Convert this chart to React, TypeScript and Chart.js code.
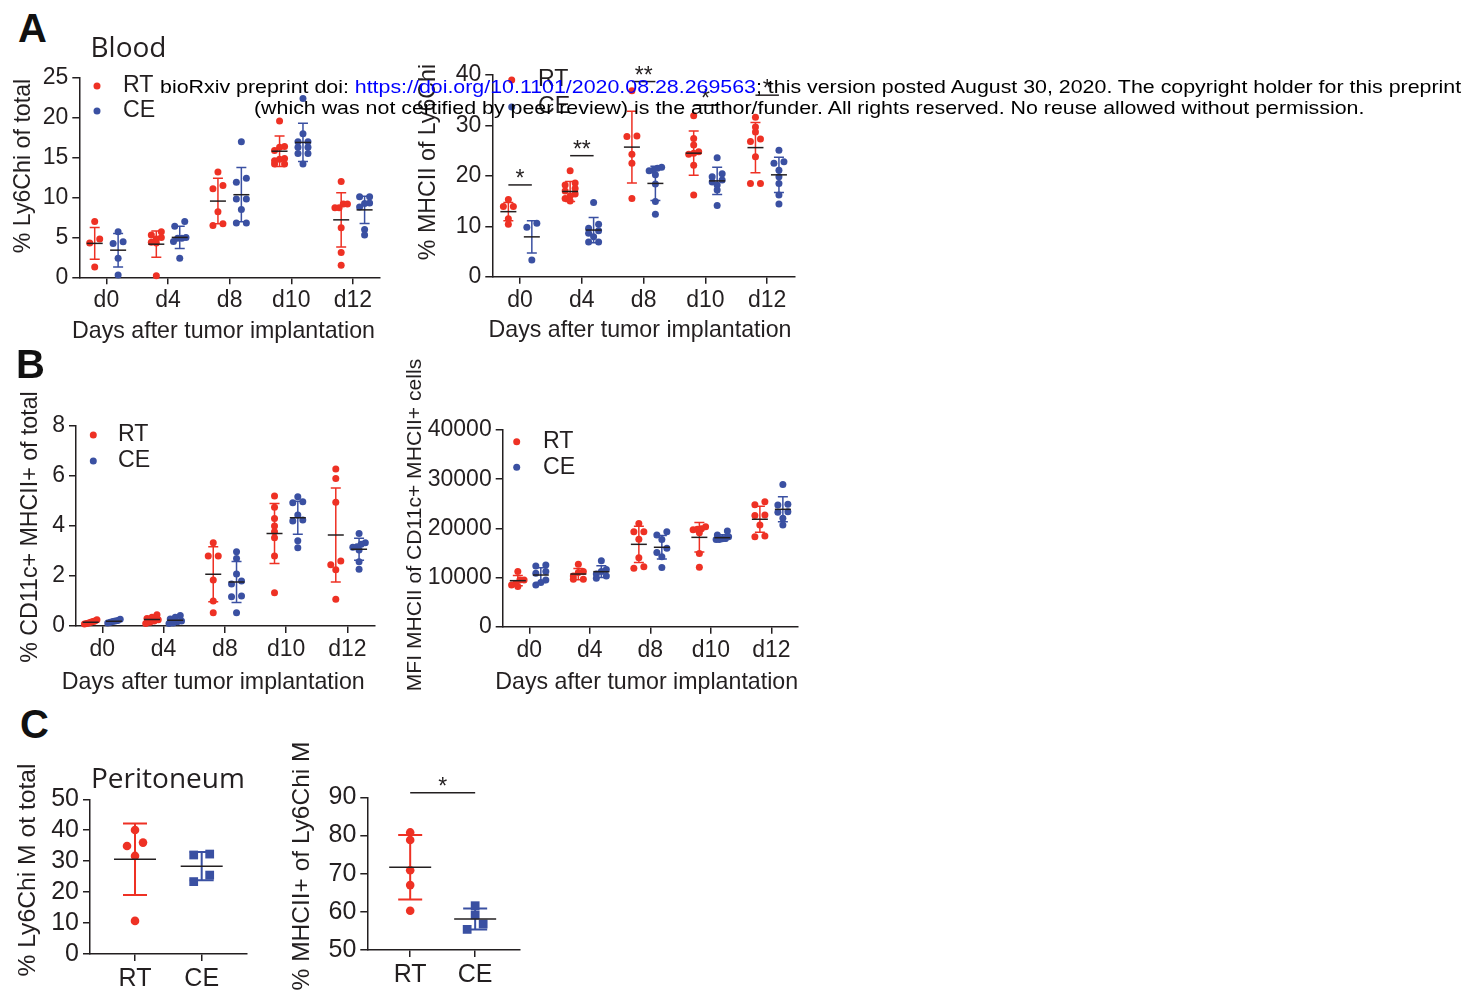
import React, { useEffect, useRef } from 'react';
import { Chart, registerables } from 'chart.js';
Chart.register(...registerables);

const FONT = "'Liberation Sans', Arial, Helvetica, sans-serif";
const TITLE_FONT = "'Open Sans', 'Noto Sans', sans-serif";
const RED = '#EE3124';
const BLUE = '#3A50A2';
const INK = '#231F20';

// ---------------- data ----------------
const DAYS = ['d0', 'd4', 'd8', 'd10', 'd12'];
const GROUPS = ['RT', 'CE'];

// A (left): % Ly6Chi of total
const A1_Y_TICKS = [0, 5, 10, 15, 20, 25];
const A1_RT = [
  [7.0, 4.8, 4.3, 1.3],
  [5.7, 5.3, 5.0, 4.8, 4.4, 4.3, 0.2],
  [13.2, 11.5, 11.1, 8.2, 6.7, 6.5],
  [19.6, 16.4, 16.3, 15.9, 14.9, 14.8, 14.6, 14.2, 14.2],
  [12.0, 9.2, 9.2, 8.7, 8.7, 6.2, 3.1, 1.5],
];
const A1_RT_MEAN = [4.25, 4.15, 9.55, 15.8, 7.2];
const A1_RT_SD = [2.0, 1.65, 2.85, 1.9, 3.4];
const A1_CE = [
  [5.7, 4.45, 4.25, 2.4, 0.3],
  [7.0, 6.4, 5.0, 4.9, 4.9, 4.5, 2.4],
  [17.0, 12.4, 11.9, 9.8, 9.8, 8.5, 6.8, 6.8],
  [22.4, 18.0, 17.0, 17.0, 16.3, 16.3, 15.5, 15.5, 14.2],
  [10.1, 10.1, 9.3, 9.25, 8.8, 6.0, 5.3],
];
const A1_CE_MEAN = [3.4, 5.0, 10.35, 16.9, 8.45];
const A1_CE_SD = [2.1, 1.4, 3.4, 2.4, 1.7];

// A (right): % MHCII of Ly6Chi
const A2_Y_TICKS = [0, 10, 20, 30, 40];
const A2_RT = [
  [15.3, 13.9, 13.9, 11.5, 10.4],
  [21.0, 18.6, 18.2, 17.5, 17.0, 16.4, 16.0, 15.5, 15.0],
  [36.9, 27.9, 27.8, 24.3, 22.5, 15.5],
  [31.9, 27.4, 26.1, 24.8, 24.5, 24.3, 22.1, 16.2],
  [31.6, 29.7, 28.7, 27.3, 26.8, 23.8, 18.5, 18.5],
];
const A2_RT_MEAN = [12.9, 16.9, 25.7, 24.5, 25.6];
const A2_RT_SD = [1.8, 2.0, 7.1, 4.4, 5.0];
const A2_CE = [
  [10.6, 9.8, 3.3],
  [14.7, 10.4, 9.6, 9.1, 8.6, 7.9, 6.9, 6.9],
  [21.7, 21.5, 21.1, 21.0, 20.2, 18.4, 14.9, 12.4],
  [23.6, 20.4, 19.8, 19.2, 18.8, 18.2, 17.2, 14.1],
  [25.1, 22.8, 22.5, 21.1, 19.8, 18.5, 16.2, 14.4],
];
const A2_CE_MEAN = [7.9, 9.25, 18.5, 19.0, 20.2];
const A2_CE_SD = [3.2, 2.5, 3.4, 2.7, 3.5];
const A2_SIG_DAY = [0, 1, 2, 3, 4];
const A2_SIG_Y = [18.2, 24.0, 38.7, 34.0, 36.0];
const A2_SIG_TEXT = ['*', '**', '**', '*', '*'];

// B (left): % CD11c+ MHCII+ of total
const B1_Y_TICKS = [0, 2, 4, 6, 8];
const B1_RT = [
  [0.25, 0.2, 0.18, 0.15, 0.12, 0.1, 0.08],
  [0.45, 0.35, 0.3, 0.25, 0.2, 0.15, 0.1],
  [3.33, 2.8, 2.8, 1.84, 1.0, 0.53],
  [5.2, 4.75, 4.3, 4.0, 3.77, 3.53, 2.8, 1.33],
  [6.28, 5.9, 4.95, 2.6, 2.45, 2.25, 1.07],
];
const B1_RT_MEAN = [0.15, 0.26, 2.07, 3.7, 3.64];
const B1_RT_SD = [0.06, 0.12, 1.1, 1.2, 1.88];
const B1_CE = [
  [0.27, 0.22, 0.2, 0.18, 0.15, 0.12],
  [0.42, 0.35, 0.28, 0.2, 0.17, 0.12, 0.1],
  [2.97, 2.7, 2.08, 1.8, 1.68, 1.2, 1.17, 0.53],
  [5.17, 4.97, 4.93, 4.44, 4.24, 4.2, 3.41, 3.13],
  [3.7, 3.33, 3.27, 3.17, 3.15, 3.04, 2.57, 2.27],
];
const B1_CE_MEAN = [0.19, 0.23, 1.76, 4.33, 3.07];
const B1_CE_SD = [0.05, 0.12, 0.82, 0.66, 0.44];

// B (right): MFI MHCII of CD11c+ MHCII+ cells
const B2_Y_TICKS = [0, 10000, 20000, 30000, 40000];
const B2_RT = [
  [11200, 9500, 9500, 8800, 8500, 8150],
  [12700, 11200, 11000, 10300, 9650, 9650],
  [21000, 19300, 19300, 17800, 14000, 12200, 11900],
  [20300, 19900, 19800, 19700, 19100, 14900, 12100],
  [25400, 24800, 22700, 22600, 20700, 18450, 18300],
];
const B2_RT_MEAN = [9360, 10710, 16750, 18170, 21850];
const B2_RT_SD = [1050, 1150, 3700, 3000, 2650];
const B2_CE = [
  [12550, 12350, 11200, 10850, 9500, 9000, 8500],
  [13400, 11650, 11200, 10700, 10300, 9850],
  [19300, 18650, 17750, 15950, 15100, 14250, 12050],
  [19450, 18650, 18300, 17950, 17900, 17750, 17750],
  [28900, 24900, 24750, 23400, 23250, 22050, 20700],
];
const B2_CE_MEAN = [10510, 11190, 16150, 18100, 23870];
const B2_CE_SD = [1500, 1200, 2400, 600, 2550];

// C (left): % Ly6Chi M ot total (Peritoneum)
const C1_Y_TICKS = [0, 10, 20, 30, 40, 50];
const C1_RT = [[40.1, 36.0, 34.9, 31.7, 10.7]];
const C1_RT_MEAN = [30.6];
const C1_RT_SD = [11.55];
const C1_CE = [[32.3, 32.0, 25.5, 23.4]];
const C1_CE_MEAN = [28.4];
const C1_CE_SD = [4.6];

// C (right): % MHCII+ of Ly6Chi M
const C2_Y_TICKS = [50, 60, 70, 80, 90];
const C2_RT = [[80.8, 78.8, 70.9, 67.0, 60.3]];
const C2_RT_MEAN = [71.7];
const C2_RT_SD = [8.45];
const C2_CE = [[61.6, 59.2, 56.8, 55.4]];
const C2_CE_MEAN = [58.1];
const C2_CE_SD = [2.75];
const C2_SIG_Y = [91.2];
const C2_SIG_TEXT = ['*'];

// ---------------- layout helpers ----------------
type Series = {
  name: string; color: string; style: string; radius: number;
  pos: number[]; values: number[][]; mean: number[]; sd: number[];
};
type Spec = {
  canvas: number[]; area: number[];
  labels: string[]; xRange: number[]; yTicks: number[];
  series: Series[];
  tickSize: number;
  yTitle: string; yTitleAt: number[]; yTitleSize: number;
  xTitle?: string; xTitleAt?: number[];
  legend?: { dotX: number; y0: number; gap: number; textX: number };
  sig?: { from: number[]; to: number[]; y: number[]; text: string[] };
  meanHalf: number; capHalf: number; barWidth: number;
  rowGap: number; spread: number;
};

const SHIFT = 0.19;
const dayPos = (d: number) => DAYS.map((_, i) => i + d);

// Prism-like scatter layout: points within one row height are spread symmetrically
function swarm(vals: number[], pxPerUnit: number, rowGap: number, spread: number): number[] {
  const order = vals.map((_, i) => i).sort((a, b) => vals[b] - vals[a]);
  const rows: number[][] = [];
  let top = Infinity;
  order.forEach((i) => {
    const p = vals[i] * pxPerUnit;
    if (rows.length && top - p < rowGap) rows[rows.length - 1].push(i);
    else { rows.push([i]); top = p; }
  });
  const out = vals.map(() => 0);
  rows.forEach((r) => {
    const n = r.length;
    if (n < 2) return;
    const w = n <= 3 ? spread : spread * 1.25;
    const sorted = [...r].sort((a, b) => vals[a] - vals[b]);
    sorted.forEach((i, k) => { out[i] = -w / 2 + (k * w) / (n - 1); });
  });
  return out;
}

function abSeries(rt: number[][], rm: number[], rs: number[], ce: number[][], cm: number[], cs: number[]): Series[] {
  return [
    { name: GROUPS[0], color: RED, style: 'circle', radius: 3.5, pos: dayPos(-SHIFT), values: rt, mean: rm, sd: rs },
    { name: GROUPS[1], color: BLUE, style: 'circle', radius: 3.5, pos: dayPos(SHIFT), values: ce, mean: cm, sd: cs },
  ];
}
function cSeries(rt: number[][], rm: number[], rs: number[], ce: number[][], cm: number[], cs: number[]): Series[] {
  return [
    { name: GROUPS[0], color: RED, style: 'circle', radius: 4.3, pos: [0], values: rt, mean: rm, sd: rs },
    { name: GROUPS[1], color: BLUE, style: 'rect', radius: 6.2, pos: [1], values: ce, mean: cm, sd: cs },
  ];
}

const AB_COMMON = { tickSize: 23, meanHalf: 8, capHalf: 5, barWidth: 1.5, rowGap: 5, spread: 10, labels: DAYS };
const C_COMMON = { tickSize: 25, meanHalf: 21, capHalf: 12, barWidth: 2, rowGap: 7, spread: 16, labels: GROUPS };
const LABEL_SIZE = 23.2;

const SPECS: Spec[] = [
  {
    ...AB_COMMON,
    canvas: [0, 60, 400, 290], area: [79.3, 77.3, 380, 277.3],
    xRange: [-0.44, 4.44], yTicks: A1_Y_TICKS,
    series: abSeries(A1_RT, A1_RT_MEAN, A1_RT_SD, A1_CE, A1_CE_MEAN, A1_CE_SD),
    yTitle: '% Ly6Chi of total', yTitleAt: [23.5, 166], yTitleSize: 23.2,
    xTitle: 'Days after tumor implantation', xTitleAt: [223.5, 332],
    legend: { dotX: 97, y0: 86, gap: 25, textX: 123 },
  },
  {
    ...AB_COMMON,
    canvas: [405, 55, 410, 295], area: [492.3, 75, 795, 276.7],
    xRange: [-0.45, 4.45], yTicks: A2_Y_TICKS,
    series: abSeries(A2_RT, A2_RT_MEAN, A2_RT_SD, A2_CE, A2_CE_MEAN, A2_CE_SD),
    yTitle: '% MHCII of Ly6Chi', yTitleAt: [428.5, 162], yTitleSize: 23.2,
    xTitle: 'Days after tumor implantation', xTitleAt: [640, 331],
    legend: { dotX: 511.7, y0: 80, gap: 27, textX: 538 },
    sig: {
      from: A2_SIG_DAY.map((d) => d - SHIFT), to: A2_SIG_DAY.map((d) => d + SHIFT),
      y: A2_SIG_Y, text: A2_SIG_TEXT,
    },
  },
  {
    ...AB_COMMON,
    canvas: [0, 390, 400, 310], area: [76, 426, 375, 626],
    xRange: [-0.43, 4.45], yTicks: B1_Y_TICKS,
    series: abSeries(B1_RT, B1_RT_MEAN, B1_RT_SD, B1_CE, B1_CE_MEAN, B1_CE_SD),
    yTitle: '% CD11c+ MHCII+ of total', yTitleAt: [31, 527], yTitleSize: 23.2,
    xTitle: 'Days after tumor implantation', xTitleAt: [213.3, 683],
    legend: { dotX: 93.3, y0: 435, gap: 26, textX: 118 },
  },
  {
    ...AB_COMMON,
    canvas: [400, 350, 410, 350], area: [502.7, 430, 798, 626.7],
    xRange: [-0.44, 4.44], yTicks: B2_Y_TICKS,
    series: abSeries(B2_RT, B2_RT_MEAN, B2_RT_SD, B2_CE, B2_CE_MEAN, B2_CE_SD),
    yTitle: 'MFI MHCII of CD11c+ MHCII+ cells', yTitleAt: [415, 525], yTitleSize: 21.1,
    xTitle: 'Days after tumor implantation', xTitleAt: [646.7, 683],
    legend: { dotX: 516.7, y0: 441.7, gap: 25.5, textX: 543 },
  },
  {
    ...C_COMMON,
    canvas: [0, 750, 260, 248], area: [90, 799.3, 246.7, 954],
    xRange: [-0.675, 1.675], yTicks: C1_Y_TICKS,
    series: cSeries(C1_RT, C1_RT_MEAN, C1_RT_SD, C1_CE, C1_CE_MEAN, C1_CE_SD),
    yTitle: '% Ly6Chi M ot total', yTitleAt: [28.5, 870], yTitleSize: 24.7,
  },
  {
    ...C_COMMON,
    canvas: [280, 735, 260, 263], area: [367.3, 797.3, 520, 950],
    xRange: [-0.66, 1.69], yTicks: C2_Y_TICKS,
    series: cSeries(C2_RT, C2_RT_MEAN, C2_RT_SD, C2_CE, C2_CE_MEAN, C2_CE_SD),
    yTitle: '% MHCII+ of Ly6Chi M', yTitleAt: [302.5, 866], yTitleSize: 24.5,
    sig: { from: [0], to: [1], y: C2_SIG_Y, text: C2_SIG_TEXT },
  },
];

function decor(spec: Spec) {
  const [cx, cy] = spec.canvas;
  return {
    id: 'decor',
    beforeDatasetsDraw(chart: any) {
      const { ctx, scales: { x, y } } = chart;
      ctx.save();
      ctx.lineWidth = spec.barWidth;
      spec.series.forEach((s) => {
        s.pos.forEach((p, i) => {
          const px = x.getPixelForValue(p);
          const t = y.getPixelForValue(s.mean[i] + s.sd[i]);
          const b = y.getPixelForValue(s.mean[i] - s.sd[i]);
          ctx.strokeStyle = s.color;
          ctx.beginPath();
          ctx.moveTo(px, t); ctx.lineTo(px, b);
          ctx.moveTo(px - spec.capHalf, t); ctx.lineTo(px + spec.capHalf, t);
          ctx.moveTo(px - spec.capHalf, b); ctx.lineTo(px + spec.capHalf, b);
          ctx.stroke();
        });
      });
      ctx.restore();
    },
    afterDatasetsDraw(chart: any) {
      const { ctx, scales: { x, y } } = chart;
      ctx.save();
      // mean lines
      ctx.strokeStyle = INK;
      ctx.lineWidth = 1.5;
      spec.series.forEach((s) => {
        s.pos.forEach((p, i) => {
          const px = x.getPixelForValue(p);
          const py = y.getPixelForValue(s.mean[i]);
          ctx.beginPath();
          ctx.moveTo(px - spec.meanHalf, py); ctx.lineTo(px + spec.meanHalf, py);
          ctx.stroke();
        });
      });
      // significance
      if (spec.sig) {
        const sg = spec.sig;
        ctx.fillStyle = INK;
        ctx.font = `23px ${FONT}`;
        ctx.textAlign = 'center';
        ctx.textBaseline = 'alphabetic';
        sg.y.forEach((v, i) => {
          const x1 = x.getPixelForValue(sg.from[i]);
          const x2 = x.getPixelForValue(sg.to[i]);
          const py = y.getPixelForValue(v);
          ctx.beginPath();
          ctx.moveTo(x1, py); ctx.lineTo(x2, py);
          ctx.stroke();
          ctx.fillText(sg.text[i], (x1 + x2) / 2, py + 1);
        });
      }
      // legend
      if (spec.legend) {
        const lg = spec.legend;
        ctx.font = `${LABEL_SIZE}px ${FONT}`;
        ctx.textAlign = 'left';
        ctx.textBaseline = 'middle';
        spec.series.forEach((s, k) => {
          const ly = lg.y0 + k * lg.gap - cy;
          ctx.fillStyle = s.color;
          ctx.beginPath();
          ctx.arc(lg.dotX - cx, ly, 3.5, 0, Math.PI * 2);
          ctx.fill();
          ctx.fillStyle = INK;
          ctx.fillText(s.name, lg.textX - cx, ly);
        });
      }
      // axis titles
      ctx.fillStyle = INK;
      ctx.textAlign = 'center';
      ctx.textBaseline = 'middle';
      ctx.font = `${spec.yTitleSize}px ${FONT}`;
      ctx.save();
      ctx.translate(spec.yTitleAt[0] - cx, spec.yTitleAt[1] - cy);
      ctx.rotate(-Math.PI / 2);
      ctx.fillText(spec.yTitle, 0, 0);
      ctx.restore();
      if (spec.xTitle && spec.xTitleAt) {
        ctx.font = `${LABEL_SIZE}px ${FONT}`;
        ctx.fillText(spec.xTitle, spec.xTitleAt[0] - cx, spec.xTitleAt[1] - cy);
      }
      ctx.restore();
    },
  };
}

function makeChart(canvas: HTMLCanvasElement, spec: Spec) {
  const [cx, cy, cw, ch] = spec.canvas;
  const [L, T, R, B] = spec.area;
  const ymin = spec.yTicks[0];
  const ymax = spec.yTicks[spec.yTicks.length - 1];
  const pxY = (B - T) / (ymax - ymin);
  const pxX = (R - L) / (spec.xRange[1] - spec.xRange[0]);
  const datasets = spec.series.map((s) => {
    const pts: { x: number; y: number }[] = [];
    s.values.forEach((vals, i) => {
      const offs = swarm(vals, pxY, spec.rowGap, spec.spread);
      vals.forEach((v, j) => pts.push({ x: s.pos[i] + offs[j] / pxX, y: v }));
    });
    return {
      label: s.name,
      data: pts,
      backgroundColor: s.color,
      borderColor: s.color,
      borderWidth: 0,
      pointRadius: s.radius,
      pointStyle: s.style,
      clip: false as any,
    };
  });
  const grid = { drawOnChartArea: false, drawTicks: true, tickLength: 7, color: INK, lineWidth: 1.5 };
  const border = { display: true, color: INK, width: 1.5 };
  const tickFont = { family: FONT, size: spec.tickSize };
  return new Chart(canvas, {
    type: 'scatter',
    data: { datasets },
    options: {
      animation: false,
      responsive: false,
      maintainAspectRatio: false,
      events: [],
      layout: { padding: { top: T - cy, right: cx + cw - R, left: 0, bottom: 0 } },
      plugins: { legend: { display: false }, tooltip: { enabled: false } },
      scales: {
        x: {
          type: 'linear',
          min: spec.xRange[0],
          max: spec.xRange[1],
          afterFit: (s: any) => { s.height = cy + ch - B; },
          afterBuildTicks: (s: any) => { s.ticks = spec.labels.map((_, i) => ({ value: i })); },
          ticks: {
            callback: (v: any) => spec.labels[Math.round(Number(v))],
            font: tickFont, color: INK, padding: 3, autoSkip: false, maxRotation: 0,
          },
          grid, border,
        },
        y: {
          type: 'linear',
          min: ymin,
          max: ymax,
          afterFit: (s: any) => { s.width = L - cx; },
          afterBuildTicks: (s: any) => { s.ticks = spec.yTicks.map((v) => ({ value: v })); },
          ticks: { callback: (v: any) => String(v), font: tickFont, color: INK, padding: 4, autoSkip: false },
          grid, border,
        },
      },
    } as any,
    plugins: [decor(spec)],
  });
}

const abs = (extra: any): React.CSSProperties => ({ position: 'absolute', margin: 0, whiteSpace: 'pre', ...extra });

export default function App() {
  const refs = useRef<(HTMLCanvasElement | null)[]>([]);
  useEffect(() => {
    const charts = SPECS.map((s, i) => makeChart(refs.current[i] as HTMLCanvasElement, s));
    return () => charts.forEach((c) => c.destroy());
  }, []);
  const letter = { fontFamily: FONT, fontWeight: 700, fontSize: 40, lineHeight: '40px', color: '#111' };
  const heading = { fontFamily: TITLE_FONT, fontSize: 28, lineHeight: '28px', color: INK };
  const note = {
    fontFamily: FONT, fontSize: 18.5, lineHeight: '18.5px', color: '#000',
    transform: 'scaleX(1.155)', transformOrigin: '0 0',
  };
  return (
    <div style={{ position: 'absolute', left: 0, top: 0, width: 1482, height: 998, background: '#fff', overflow: 'hidden' }}>
      {SPECS.map((s, i) => (
        <canvas
          key={i}
          ref={(el) => { refs.current[i] = el; }}
          width={s.canvas[2]}
          height={s.canvas[3]}
          style={{ position: 'absolute', left: s.canvas[0], top: s.canvas[1], width: s.canvas[2], height: s.canvas[3] }}
        />
      ))}
      <div style={abs({ ...letter, left: 18, top: 8 })}>A</div>
      <div style={abs({ ...letter, left: 16, top: 344 })}>B</div>
      <div style={abs({ ...letter, left: 20, top: 704 })}>C</div>
      <div style={abs({ ...heading, left: 90.5, top: 31.8 })}>Blood</div>
      <div style={abs({ ...heading, left: 91, top: 762.5 })}>Peritoneum</div>
      <div style={abs({ ...note, left: 160, top: 78.3 })}>
        {'bioRxiv preprint doi: '}
        <span style={{ color: '#0000FF' }}>https://doi.org/10.1101/2020.08.28.269563</span>
        {'; this version posted August 30, 2020. The copyright holder for this preprint'}
      </div>
      <div style={abs({ ...note, left: 254, top: 98.5 })}>
        {'(which was not certified by peer review) is the author/funder. All rights reserved. No reuse allowed without permission.'}
      </div>
    </div>
  );
}
